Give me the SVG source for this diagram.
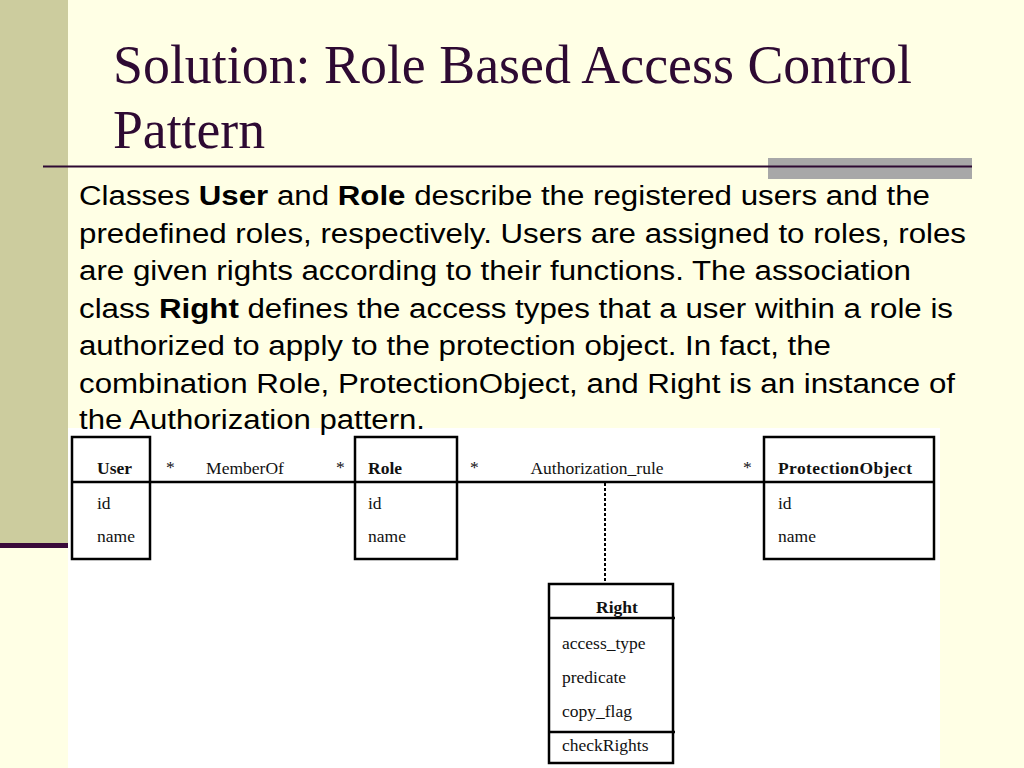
<svg xmlns="http://www.w3.org/2000/svg" width="1024" height="768" viewBox="0 0 1024 768">
<style>
.title{font-family:"Liberation Serif",serif;font-size:54px;fill:#2E0A33}
.body{font-family:"Liberation Sans",Arial,sans-serif;font-size:27px;fill:#000}
.b{font-weight:bold}
.d{font-family:"Liberation Serif",serif;font-size:17.5px;fill:#111}
.db{font-family:"Liberation Serif",serif;font-size:17.5px;font-weight:bold;fill:#111}
.box{fill:#fff;stroke:#000;stroke-width:2.5}
.ln{stroke:#000;stroke-width:2.5;fill:none}
</style>
<rect x="0" y="0" width="1024" height="768" fill="#FFFFE5"/>
<rect x="0" y="0" width="68" height="545" fill="#CCCC9E"/>
<rect x="0" y="543" width="68" height="5" fill="#3A0A3A"/>
<rect x="768" y="158" width="204" height="21" fill="#A8A8A8"/>
<line x1="43" y1="166.5" x2="972" y2="166.5" stroke="#2E0A33" stroke-width="2"/>
<text class="title" x="113" y="83" textLength="799" lengthAdjust="spacingAndGlyphs">Solution: Role Based Access Control</text>
<text class="title" x="113" y="148" textLength="152" lengthAdjust="spacingAndGlyphs">Pattern</text>
<rect x="68" y="428" width="872" height="340" fill="#fff"/>
<g lengthAdjust="spacingAndGlyphs">
<text class="body" x="79" y="205" textLength="851" lengthAdjust="spacingAndGlyphs">Classes <tspan class="b">User</tspan> and <tspan class="b">Role</tspan> describe the registered users and the</text>
<text class="body" x="79" y="243" textLength="887" lengthAdjust="spacingAndGlyphs">predefined roles, respectively. Users are assigned to roles, roles</text>
<text class="body" x="79" y="280" textLength="832" lengthAdjust="spacingAndGlyphs">are given rights according to their functions. The association</text>
<text class="body" x="79" y="318" textLength="874" lengthAdjust="spacingAndGlyphs">class <tspan class="b">Right</tspan> defines the access types that a user within a role is</text>
<text class="body" x="79" y="355" textLength="752" lengthAdjust="spacingAndGlyphs">authorized to apply to the protection object. In fact, the</text>
<text class="body" x="79" y="393" textLength="876" lengthAdjust="spacingAndGlyphs">combination Role, ProtectionObject, and Right is an instance of</text>
<text class="body" x="79" y="429" textLength="346" lengthAdjust="spacingAndGlyphs">the Authorization pattern.</text>
</g>
<g id="connectors">
<line class="ln" x1="150" y1="482" x2="355" y2="482"/>
<line class="ln" x1="457" y1="482" x2="764" y2="482"/>
<line x1="605" y1="483" x2="605" y2="583" stroke="#000" stroke-width="2" stroke-dasharray="3,2"/>
<text class="d" x="166" y="473">*</text>
<text class="d" x="245" y="474" text-anchor="middle">MemberOf</text>
<text class="d" x="336" y="473">*</text>
<text class="d" x="470" y="473">*</text>
<text class="d" x="597" y="474" text-anchor="middle">Authorization_rule</text>
<text class="d" x="743" y="473">*</text>
</g>
<g id="user">
<rect class="box" x="72" y="437" width="78" height="122"/>
<line class="ln" x1="72" y1="482" x2="150" y2="482"/>
<text class="db" x="97" y="474">User</text>
<text class="d" x="97" y="509">id</text>
<text class="d" x="97" y="542">name</text>
</g>
<g id="role">
<rect class="box" x="355" y="437" width="102" height="122"/>
<line class="ln" x1="355" y1="482" x2="457" y2="482"/>
<text class="db" x="368" y="474">Role</text>
<text class="d" x="368" y="509">id</text>
<text class="d" x="368" y="542">name</text>
</g>
<g id="protectionobject">
<rect class="box" x="764" y="437" width="170" height="122"/>
<line class="ln" x1="764" y1="482" x2="934" y2="482"/>
<text class="db" x="778" y="474" textLength="134">ProtectionObject</text>
<text class="d" x="778" y="509">id</text>
<text class="d" x="778" y="542">name</text>
</g>
<g id="right">
<rect class="box" x="549" y="584" width="124" height="179"/>
<line class="ln" x1="549" y1="618" x2="675" y2="618"/>
<line class="ln" x1="549" y1="732" x2="675" y2="732"/>
<text class="db" x="617" y="613" text-anchor="middle">Right</text>
<text class="d" x="562" y="649">access_type</text>
<text class="d" x="562" y="683">predicate</text>
<text class="d" x="562" y="717">copy_flag</text>
<text class="d" x="562" y="751">checkRights</text>
</g>
</svg>
